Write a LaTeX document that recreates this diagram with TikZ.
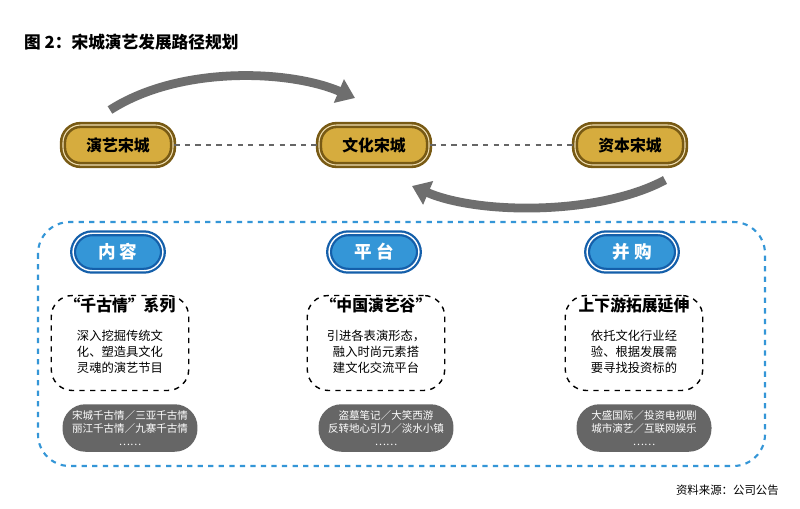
\documentclass[tikz,border=0pt]{standalone}
\usepackage{fontspec}
\setmainfont{Noto Sans CJK SC}
\usetikzlibrary{arrows.meta}
\definecolor{gold}{RGB}{214,172,62}
\definecolor{golddark}{RGB}{120,90,20}
\definecolor{bluefill}{RGB}{52,150,215}
\definecolor{bluedark}{RGB}{20,95,170}
\definecolor{grayarrow}{RGB}{110,110,110}
\tikzset{
  goldpill/.style={draw=golddark,line width=1.5pt,fill=gold,rounded corners=10pt,
    minimum width=2.2cm,minimum height=0.8cm,font=\fontsize{9}{10}\selectfont\bfseries,
    double=gold!40,double distance=0.6pt},
  bluepill/.style={draw=bluedark,line width=1.3pt,double=white,double distance=0.8pt,fill=bluefill,
    rounded corners=11pt,minimum width=1.8cm,minimum height=0.75cm,text=white,
    font=\fontsize{10}{11}\selectfont\bfseries},
  dashbox/.style={draw,dashed,thick,rounded corners=12pt,minimum width=2.75cm,minimum height=1.9cm},
  graypill/.style={fill=black!60,rounded corners=13pt,minimum width=2.7cm,minimum height=0.95cm,
    text=white,align=center,font=\fontsize{6}{7.5}\selectfont},
  bigarrow/.style={grayarrow,line width=5pt,-{Triangle[length=10pt,width=14pt]}}
}
\begin{document}
\begin{tikzpicture}[x=0.02cm,y=-0.02cm]
  \useasboundingbox[fill=white] (0,0) rectangle (800,508);
  \node[anchor=west,font=\fontsize{9.5}{11}\selectfont\bfseries] (title) at (18,42) {图 2：宋城演艺发展路径规划};
  %stage nodes
  \node[goldpill] (yy) at (118,145) {演艺宋城};
  \node[goldpill] (wh) at (374,145) {文化宋城};
  \node[goldpill] (zb) at (630,145) {资本宋城};
  \draw[dashed,thick,black!60] (yy) -- (wh);
  \draw[dashed,thick,black!60] (wh) -- (zb);
  %curved arrows
  \coordinate (a1) at (110,110);
  \coordinate (a2) at (355,98);
  \coordinate (b1) at (665,180);
  \coordinate (b2) at (412,186);
  \draw[bigarrow] (a1) .. controls (180,65) and (290,70) .. (a2);
  \draw[bigarrow] (b1) .. controls (600,215) and (480,215) .. (b2);
  %frame
  \draw[bluefill,dashed,line width=1.2pt,rounded corners=18pt] (38,222) rectangle (765,466);
  \foreach \n/\x/\t/\h/\b/\g in {
      nr/118/内 容/“千古情”系列/{深入挖掘传统文\\化、塑造具文化\\灵魂的演艺节目}/{宋城千古情／三亚千古情\\丽江千古情／九寨千古情\\……},
      pt/374/平 台/“中国演艺谷”/{引进各表演形态，\\融入时尚元素搭\\建文化交流平台}/{盗墓笔记／大笑西游\\反转地心引力／淡水小镇\\……},
      bg/632/并 购/上下游拓展延伸/{依托文化行业经\\验、根据发展需\\要寻找投资标的}/{大盛国际／投资电视剧\\城市演艺／互联网娱乐\\……}}{
    \node[bluepill] (\n-p) at (\x,252) {\t};
    \node[dashbox] (\n-d) at (\x+2,343) {};
    \node[font=\fontsize{9}{10}\selectfont\bfseries] (\n-h) at (\x+2,305) {\h};
    \node[align=center,font=\fontsize{7}{9}\selectfont] (\n-b) at (\x+2,352) {\b};
    \node[graypill] (\n-g) at (\x+12,428) {\g};
  }
  \node[anchor=east,font=\fontsize{6.5}{8}\selectfont] (src) at (785,490) {资料来源：公司公告};
\end{tikzpicture}
\end{document}
